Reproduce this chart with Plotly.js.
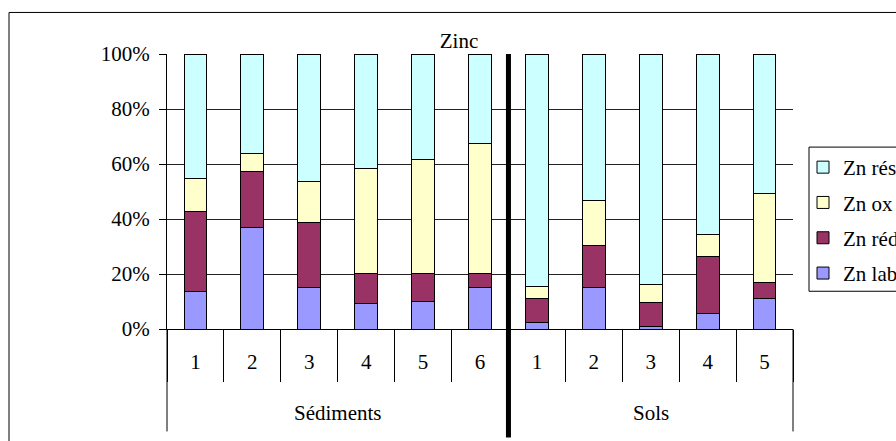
<!DOCTYPE html>
<html>
<head>
<meta charset="utf-8">
<script src="https://cdn.plot.ly/plotly-3.0.1.min.js"></script>
<style>html,body{margin:0;padding:0;background:#fff;}#chart{width:896px;height:441px;}</style>
</head>
<body>
<div id="chart"></div>
<script>
const groups = ['Sédiments','Sédiments','Sédiments','Sédiments','Sédiments','Sédiments','Sols','Sols','Sols','Sols','Sols'];
const samples = ['1','2','3','4','5','6','1','2','3','4','5'];
const znLab = [13.7, 36.9, 15.2, 9.4, 10.0, 15.2, 2.3, 15.2, 1.0, 5.6, 11.2];
const znRed = [29.1, 20.5, 23.4, 10.8, 10.2, 5.0, 8.9, 15.3, 8.5, 20.6, 5.7];
const znOx  = [11.9, 6.6, 15.0, 38.3, 41.6, 47.4, 4.1, 16.1, 6.6, 8.1, 32.5];
const znRes = [45.3, 36.0, 46.4, 41.5, 38.2, 32.4, 84.7, 53.4, 83.9, 65.7, 50.6];
const seriesNames = ['Zn lab','Zn réd','Zn ox','Zn rés'];
const colors = ['#9999FF','#993366','#FFFFCC','#CCFFFF'];

const FONT = '"Liberation Serif", serif';
const FS = 21;
const cats = groups.map((g, i) => g + ' ' + samples[i]);
const traces = [znLab, znRed, znOx, znRes].map((v, i) => ({
  type: 'bar', x: cats, y: v, name: seriesNames[i],
  legendgroup: 'g' + i, legendrank: 10 - i,
  marker: {color: colors[i], line: {color: '#000', width: 1}},
  hoverinfo: 'skip'
}));

const L = 167, R = 793, T = 54, B = 328.7;
const W = R - L, H = B - T;
const px2x = p => (p - L) / W;
const py2y = p => (B - p) / H;

// group label annotations centred under each group of categories
const uniq = [...new Set(groups)];
const groupAnn = uniq.map(g => {
  const first = groups.indexOf(g), last = groups.lastIndexOf(g);
  return {xref: 'x', yref: 'paper', x: (first + last) / 2, y: py2y(413),
          text: g, showarrow: false, xanchor: 'center', yanchor: 'middle',
          font: {family: FONT, size: FS, color: '#000'}};
});
const nFirst = groups.lastIndexOf(uniq[0]) + 1;

const layout = {
  width: 896, height: 441,
  margin: {l: L, r: 896 - R, t: T, b: 441 - B, pad: 0},
  paper_bgcolor: '#fff', plot_bgcolor: '#fff',
  font: {family: FONT, size: FS, color: '#000'},
  barmode: 'stack', barnorm: 'percent', bargap: 0.6,
  title: {text: 'Zinc', font: {family: FONT, size: FS, color: '#000'},
          xref: 'container', yref: 'container', x: 459 / 896, y: 1 - 41 / 441,
          xanchor: 'center', yanchor: 'middle'},
  showlegend: true,
  legend: {xref: 'container', yref: 'container', x: 803 / 896, y: 1 - 147 / 441,
           xanchor: 'left', yanchor: 'top', traceorder: 'grouped', tracegroupgap: 5,
           borderwidth: 0, bgcolor: 'rgba(0,0,0,0)',
           font: {family: FONT, size: FS, color: '#000'}},
  xaxis: {
    type: 'category', showgrid: false, zeroline: false,
    tickmode: 'array', tickvals: cats, ticktext: samples,
    ticks: 'outside', tickson: 'boundaries', ticklen: 52, tickcolor: '#000', tickwidth: 1,
    showline: true, linecolor: '#000', linewidth: 1,
    ticklabelstandoff: 14,
    tickfont: {family: FONT, size: FS, color: '#000'}
  },
  yaxis: {
    range: [0, 100], tick0: 0, dtick: 20, ticksuffix: '%',
    showgrid: true, gridcolor: '#222', gridwidth: 1, zeroline: false,
    showline: true, linecolor: '#000', linewidth: 1,
    ticks: 'outside', ticklen: 7, tickcolor: '#000', ticklabelstandoff: 5,
    tickfont: {family: FONT, size: FS, color: '#000'}
  },
  annotations: groupAnn,
  shapes: [
    {type: 'rect', xref: 'paper', yref: 'paper', x0: px2x(9), x1: px2x(905), y0: py2y(450), y1: py2y(12.5),
     line: {color: '#000', width: 1}, fillcolor: 'rgba(0,0,0,0)', layer: 'below'},
    {type: 'rect', xref: 'paper', yref: 'paper', x0: px2x(809), x1: px2x(905), y0: py2y(291), y1: py2y(147),
     line: {color: '#000', width: 1}, fillcolor: 'rgba(0,0,0,0)'},
    {type: 'line', xref: 'paper', yref: 'paper', x0: 0, x1: 0, y0: py2y(431), y1: 0,
     line: {color: '#000', width: 1}},
    {type: 'line', xref: 'paper', yref: 'paper', x0: 1, x1: 1, y0: py2y(431), y1: 0,
     line: {color: '#000', width: 1}},
    {type: 'line', xref: 'paper', yref: 'paper', x0: nFirst / groups.length, x1: nFirst / groups.length,
     y0: py2y(437), y1: 1, line: {color: '#000', width: 5}}
  ]
};

Plotly.newPlot('chart', traces, layout, {staticPlot: true, displayModeBar: false});
</script>
</body>
</html>
